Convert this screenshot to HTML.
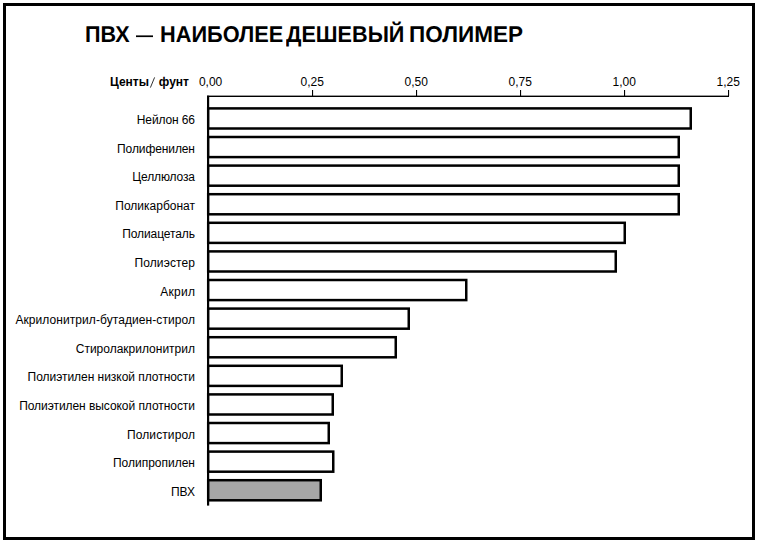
<!DOCTYPE html>
<html><head><meta charset="utf-8"><style>
html,body{margin:0;padding:0;background:#fff;width:760px;height:546px;overflow:hidden;position:relative;font-family:"Liberation Sans",sans-serif;color:#000}
.frame{position:absolute;left:3px;top:3px;width:752px;height:537px;box-sizing:border-box;border:3px solid #000}
.tw{position:absolute;top:19px;text-rendering:geometricPrecision;font-size:22.75px;font-weight:bold;white-space:nowrap;line-height:30px;transform-origin:0 0}
.lab{position:absolute;right:565px;font-size:12px;line-height:14px;white-space:nowrap;text-align:right}
.tk{position:absolute;top:75px;width:60px;text-align:center;font-size:12px;line-height:14px}
.unit{position:absolute;top:75px;font-size:12px;line-height:14px;font-weight:bold;white-space:nowrap}
svg{position:absolute;left:0;top:0}
</style></head><body>
<div class="frame"></div>
<div class="unit" style="left:110px">Центы</div>
<div class="unit" style="left:158.8px">фунт</div>
<div class="lab" style="top:112.95px;letter-spacing:-0.125px;margin-right:0.125px">Нейлон 66</div><div class="lab" style="top:141.55px;letter-spacing:-0.100px;margin-right:0.100px">Полифенилен</div><div class="lab" style="top:170.15px;letter-spacing:-0.125px;margin-right:0.125px">Целлюлоза</div><div class="lab" style="top:198.75px;letter-spacing:0.000px;margin-right:-0.000px">Поликарбонат</div><div class="lab" style="top:227.35px;letter-spacing:-0.100px;margin-right:0.100px">Полиацеталь</div><div class="lab" style="top:255.95px;letter-spacing:0.125px;margin-right:-0.125px">Полиэстер</div><div class="lab" style="top:284.55px;letter-spacing:0.250px;margin-right:-0.250px">Акрил</div><div class="lab" style="top:313.15px;letter-spacing:0.074px;margin-right:-0.074px">Акрилонитрил-бутадиен-стирол</div><div class="lab" style="top:341.75px;letter-spacing:0.000px;margin-right:-0.000px">Стиролакрилонитрил</div><div class="lab" style="top:370.35px;letter-spacing:-0.038px;margin-right:0.038px">Полиэтилен низкой плотности</div><div class="lab" style="top:398.95px;letter-spacing:-0.056px;margin-right:0.056px">Полиэтилен высокой плотности</div><div class="lab" style="top:427.55px;letter-spacing:0.111px;margin-right:-0.111px">Полистирол</div><div class="lab" style="top:456.15px;letter-spacing:0.000px;margin-right:-0.000px">Полипропилен</div><div class="lab" style="top:484.75px;letter-spacing:0.000px;margin-right:-0.000px">ПВХ</div><div class="tk" style="left:180.60px">0,00</div><div class="tk" style="left:282.30px">0,25</div><div class="tk" style="left:386.30px">0,50</div><div class="tk" style="left:490.30px">0,75</div><div class="tk" style="left:594.30px">1,00</div><div class="tk" style="left:698.30px">1,25</div><div class="tw" style="left:84.80px;transform:scaleX(0.948)">ПВХ</div><div class="tw" style="left:159.69px;transform:scaleX(0.956)">НАИБОЛЕЕ</div><div class="tw" style="left:285.90px;transform:scaleX(0.951)">ДЕШЕВЫЙ</div><div class="tw" style="left:409.12px;transform:scaleX(0.99)">ПОЛИМЕР</div>
<svg width="760" height="546" viewBox="0 0 760 546">
<rect x="207.0" y="95.7" width="2.2" height="409.90" fill="#000"/><rect x="207.0" y="95.6" width="522.00" height="1.4" fill="#000"/><rect x="312" y="90" width="1.1" height="6" fill="#000"/><rect x="416" y="90" width="1.1" height="6" fill="#000"/><rect x="520" y="90" width="1.1" height="6" fill="#000"/><rect x="624" y="90" width="1.1" height="6" fill="#000"/><rect x="728" y="90" width="1.1" height="6" fill="#000"/><rect x="208.2" y="108.40" width="482.55" height="20.10" fill="#fff" stroke="#000" stroke-width="2.5"/><rect x="208.2" y="137.00" width="470.55" height="20.10" fill="#fff" stroke="#000" stroke-width="2.5"/><rect x="208.2" y="165.60" width="470.55" height="20.10" fill="#fff" stroke="#000" stroke-width="2.5"/><rect x="208.2" y="194.20" width="470.55" height="20.10" fill="#fff" stroke="#000" stroke-width="2.5"/><rect x="208.2" y="222.80" width="416.55" height="20.10" fill="#fff" stroke="#000" stroke-width="2.5"/><rect x="208.2" y="251.40" width="407.55" height="20.10" fill="#fff" stroke="#000" stroke-width="2.5"/><rect x="208.2" y="280.00" width="258.05" height="20.10" fill="#fff" stroke="#000" stroke-width="2.5"/><rect x="208.2" y="308.60" width="200.55" height="20.10" fill="#fff" stroke="#000" stroke-width="2.5"/><rect x="208.2" y="337.20" width="187.55" height="20.10" fill="#fff" stroke="#000" stroke-width="2.5"/><rect x="208.2" y="365.80" width="133.55" height="20.10" fill="#fff" stroke="#000" stroke-width="2.5"/><rect x="208.2" y="394.40" width="124.55" height="20.10" fill="#fff" stroke="#000" stroke-width="2.5"/><rect x="208.2" y="423.00" width="120.55" height="20.10" fill="#fff" stroke="#000" stroke-width="2.5"/><rect x="208.2" y="451.60" width="125.05" height="20.10" fill="#fff" stroke="#000" stroke-width="2.5"/><rect x="208.2" y="480.20" width="112.55" height="20.10" fill="#a6a6a6" stroke="#000" stroke-width="2.5"/><line x1="150.4" y1="87.6" x2="154.6" y2="77.4" stroke="#333" stroke-width="1"/><rect x="136" y="35.4" width="17" height="1.7" fill="#000"/>
</svg>
</body></html>
